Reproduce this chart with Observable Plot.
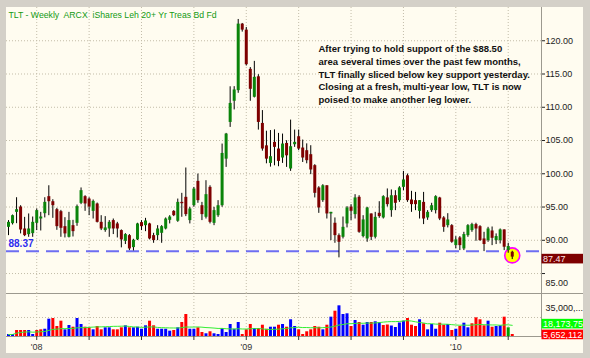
<!DOCTYPE html>
<html><head><meta charset="utf-8">
<script src="https://cdn.jsdelivr.net/npm/d3@7"></script>
<script src="https://cdn.jsdelivr.net/npm/@observablehq/plot@0.6"></script>
<style>
html,body{margin:0;padding:0;background:#ffffff;}
#wrap{position:relative;width:590px;height:358px;background:#d4d0c8;overflow:hidden;font-family:"Liberation Sans",Arial,sans-serif;}
#panel{position:absolute;left:6px;top:7px;width:577px;height:346px;background:#fffcf0;}
.ln{position:absolute;background:#9c998f;}
#price,#volume{position:absolute;left:0;}
#price{top:0px;}
#volume{top:293px;}
</style></head><body>
<div id="wrap">
  <div id="panel"></div>
  <div class="ln" style="left:541px;top:7px;width:1px;height:330px"></div>
  <div class="ln" style="left:6px;top:293px;width:577px;height:1px"></div>
  <div class="ln" style="left:6px;top:336px;width:577px;height:1px"></div>
  <div id="price"></div>
  <div id="volume"></div>
</div>
<script>
// ---- data (weekly bars, TLT, Nov 2007 - Apr 2010) ----
const open = [
91.95,92.5,94.2,95.0,91.7,90.85,91.0,92.55,93.2,94.0,
96.56,95.8,94.6,94.3,92.05,90.45,92.2,92.55,95.55,96.56,
96.2,94.35,95.46,92.7,91.46,91.7,92.96,92.46,91.46,89.85,
90.7,88.9,90.06,92.66,92.2,92.46,90.7,90.7,91.05,91.7,
93.0,94.35,92.86,95.7,96.46,92.96,95.2,98.86,95.2,93.46,
97.96,92.55,93.7,95.2,102.2,107.72,110.9,112.5,122.5,121.6,
115.7,111.5,114.58,107.57,104.2,101.56,104.72,103.72,102.37,104.56,
100.72,104.37,105.57,103.87,103.47,102.87,101.22,97.87,95.96,98.2,
93.96,92.56,90.7,90.45,92.46,95.0,93.86,96.46,90.56,90.2,
93.96,90.45,94.06,93.36,96.37,94.46,96.7,95.96,97.96,99.7,
96.06,95.96,94.35,95.7,93.36,94.46,94.46,96.36,93.36,92.2,
92.2,89.2,90.36,88.7,90.7,91.46,92.36,92.05,90.2,89.95,
91.4,89.95,89.95,91.56,88.45,88.2];
const high = [
92.96,93.8,96.4,95.2,93.45,93.96,93.5,94.7,94.2,96.4,
98.2,96.1,94.8,94.5,93.4,94.2,93.0,95.3,97.87,96.7,
96.4,96.06,95.6,93.7,93.56,92.96,93.2,92.7,91.56,91.0,
90.86,90.15,92.56,92.96,93.3,92.56,91.05,92.2,92.2,93.36,
93.7,94.46,96.2,97.06,100.87,94.96,97.95,99.96,95.7,98.96,
98.2,94.96,95.96,104.47,106.07,113.08,113.1,123.2,122.6,122.0,
115.97,116.9,114.9,109.5,106.4,106.5,106.6,106.07,105.97,104.97,
108.07,106.57,106.57,105.07,104.5,104.22,101.37,98.06,98.36,98.2,
94.2,93.36,90.96,93.5,95.06,95.36,96.86,96.7,93.7,94.96,
93.96,94.2,95.8,96.7,97.72,97.57,97.46,98.06,100.36,99.96,
97.36,97.2,95.96,97.2,94.46,95.56,96.7,96.46,93.56,94.0,
92.36,90.56,90.56,91.2,92.36,92.56,92.56,92.2,91.2,91.95,
92.0,90.96,91.7,91.56,89.55,88.35];
const low = [
90.7,92.3,92.5,90.96,90.55,90.45,90.45,91.46,91.4,93.36,
93.7,93.3,91.5,90.45,90.35,90.35,90.5,92.1,95.36,94.35,
93.7,93.2,92.6,91.46,91.2,90.45,90.86,90.35,88.86,89.36,
88.45,88.4,89.96,91.46,91.3,90.06,89.55,89.95,89.55,91.56,
92.46,93.56,92.7,93.46,93.56,92.46,94.96,95.56,92.96,93.2,
92.46,92.2,93.45,94.96,100.96,106.97,109.6,112.1,121.3,116.2,
110.9,111.4,106.57,103.4,101.5,101.0,101.2,101.06,101.56,100.96,
100.36,103.97,103.47,101.7,101.5,99.87,96.37,94.05,95.7,93.2,
89.95,89.55,87.36,90.2,91.86,92.96,93.2,91.05,90.36,89.7,
89.95,90.2,93.3,93.2,95.0,93.46,94.46,95.7,97.46,95.7,
94.2,94.46,93.2,92.36,93.0,94.2,93.96,92.96,91.2,91.86,
89.55,88.7,88.45,88.45,90.45,91.2,89.85,89.85,88.3,89.7,
89.2,89.36,89.45,88.45,88.05,87.1];
const close = [
92.7,93.7,94.6,91.55,90.7,91.7,92.7,94.46,93.5,95.7,
95.8,95.2,92.05,91.8,90.96,92.96,91.3,95.06,97.46,95.46,
95.0,95.85,92.7,91.7,91.86,92.7,91.7,91.7,90.06,90.86,
88.7,90.0,92.46,92.05,92.9,90.2,89.95,91.7,92.05,93.2,
93.5,93.7,95.7,95.5,93.86,94.7,97.7,95.96,93.86,96.86,
92.7,94.46,95.2,103.06,105.97,110.58,112.6,122.5,121.6,116.4,
112.7,114.5,107.72,103.72,102.2,102.57,103.97,101.86,104.47,102.7,
104.07,104.72,103.72,102.37,101.97,100.57,97.06,94.86,98.2,93.96,
94.2,90.7,89.7,91.95,94.86,94.36,96.37,91.2,93.06,94.86,
90.45,93.45,93.56,96.56,95.36,96.7,95.56,97.87,99.07,95.96,
95.36,95.36,95.96,93.2,94.2,95.2,96.56,93.2,91.95,93.06,
89.7,90.06,89.2,90.86,92.2,92.36,91.7,89.95,89.36,91.7,
90.3,90.56,91.56,88.96,89.06,87.47];
// weekly volume, millions of shares
const volume = [
3.7,3.7,11.1,11.1,11.1,11.1,3.7,11.1,12.3,13.4,
31.9,33.2,18.4,28.2,12.3,20.3,17.1,33.2,22.1,17.1,
16.0,12.3,18.4,12.3,16.0,16.0,12.3,12.3,16.0,19.7,
16.0,16.0,17.1,13.4,19.7,28.2,19.7,13.4,13.4,13.4,
9.8,11.1,16.0,25.8,40.5,13.4,13.4,16.0,7.4,5.0,
8.7,5.0,3.7,14.7,7.4,22.1,13.4,25.8,3.7,12.3,
22.1,14.7,14.7,20.8,13.4,17.1,17.1,20.8,22.1,17.1,
30.8,18.4,12.3,3.7,8.7,12.3,18.4,17.1,12.3,20.8,
35.6,46.6,56.5,40.5,41.8,18.4,29.5,25.8,20.8,25.8,
25.8,27.1,25.8,20.3,21.2,19.3,16.6,24.9,28.2,33.2,
20.8,18.4,30.8,23.4,12.3,22.1,13.4,24.5,20.8,22.1,
11.1,13.4,18.4,24.5,16.0,23.4,34.4,30.8,19.7,28.2,
17.1,18.4,19.7,35.6,16.0,3.7];
// volume bar colour code: u = up week, d = down week, g = highlighted week
const volumeDirection = [...(
"uuddduuddu"+"uddduuduud"+"dudduudddu"+"duuuudduuu"+"ududduuddu"+"duuuuuuudd"+
"duddduudud"+"uuddddddud"+"uduuududuu"+"duudduuuud"+"dduduuuddu"+"duduuddddu"+"duudgd")];

const priceTicks = [85, 90, 95, 100, 105, 110, 115, 120];
const quarterWeeks = [7, 20, 33, 46, 59, 72, 85, 98, 111, 124];
const yearWeeks = [7, 59, 111];
const yearLabels = ["'08", "'09", "'10"];
const supportLevel = 88.37;
const volumeGridValue = 35;
const volumeGridLabel = "35,000,...";
const volumeMALast = 18.17;
const volumeMALabel = "18,173,75";
const lastVolumeLabel = "5,652,112";
const lastVolumeValue = 5.652;
const titleText = "TLT - Weekly\u00A0 ARCX\u00A0 iShares Leh 20+ Yr Treas Bd Fd";
const noteLines = [
  "After trying to hold support of the $88.50",
  "area several times over the past few months,",
  "TLT finally sliced below key support yesterday.",
  "Closing at a fresh, multi-year low, TLT is now",
  "poised to make another leg lower."
];

// ---- build ----
const candles = open.map((o, i) => ({i, open: o, high: high[i], low: low[i], close: close[i]}));
const vols = volume.map((v, i) => ({i, v, dir: volumeDirection[i]}));
const last = candles[candles.length - 1];
const yearLabelOf = new Map(yearWeeks.map((w, k) => [w, yearLabels[k]]));

const GREEN = "#0a840a", RED = "#7e0000", GRID = "#c3bda9";
const volColor = {u: "#0000ff", d: "#ff0000", g: "#00a000"};
const xDomain = [-0.5, 132.26];
const font = "'Liberation Sans', Arial, sans-serif";
const NS = "http://www.w3.org/2000/svg";

function valueBox(value, text, fill, textFill, offset) {
  return (index, scales, values, dims) => {
    const y = scales.y(value) + offset;
    const x0 = dims.width - dims.marginRight;
    const g = document.createElementNS(NS, "g");
    const r = document.createElementNS(NS, "rect");
    r.setAttribute("x", x0 + 0.5); r.setAttribute("y", y - 4.8);
    r.setAttribute("width", 41.5); r.setAttribute("height", 9.6);
    r.setAttribute("fill", fill);
    const t = document.createElementNS(NS, "text");
    t.setAttribute("x", x0 + 2); t.setAttribute("y", y);
    t.setAttribute("dy", "0.36em"); t.setAttribute("fill", textFill);
    t.setAttribute("text-anchor", "start");
    t.setAttribute("font-size", "9px");
    t.textContent = text;
    g.append(r, t);
    return g;
  };
}

const price = Plot.plot({
  width: 590, height: 293,
  marginLeft: 6, marginRight: 49, marginTop: 7, marginBottom: 0,
  style: {background: "transparent", fontFamily: font, fontSize: "9px", color: "#222", overflow: "visible"},
  x: {domain: xDomain, axis: null},
  y: {domain: [82, 125], axis: "right", ticks: priceTicks, tickSize: 3, tickPadding: 1,
      tickFormat: d => d === 85 ? "" : d.toFixed(2), label: null},
  color: {type: "identity"},
  marks: [
    Plot.ruleY(priceTicks, {stroke: GRID, strokeDasharray: "1,2"}),
    Plot.ruleX(quarterWeeks, {stroke: GRID, strokeDasharray: "1,2"}),
    Plot.text([85], {y: d => d, frameAnchor: "right", dx: 4, dy: 10, textAnchor: "start", text: d => d.toFixed(2), fill: "#222"}),
    Plot.text([titleText], {frameAnchor: "top-left", dx: 2, dy: 4, lineAnchor: "top", textAnchor: "start",
      fill: "#139a13", fontSize: 8.7, text: d => d}),
    Plot.text([noteLines.join("\n")], {frameAnchor: "top-left", dx: 312, dy: 36, lineAnchor: "top", textAnchor: "start",
      lineHeight: 1.33, fontWeight: "bold", fontSize: 9.5, fill: "#111", text: d => d}),
    Plot.ruleY([supportLevel], {stroke: "#6d6df2", strokeWidth: 2, strokeDasharray: "13,7"}),
    Plot.text([supportLevel], {y: d => d, frameAnchor: "left", dx: 2, dy: -7, textAnchor: "start",
      text: d => d.toFixed(2), fill: "#2d2df0", fontWeight: "bold", fontSize: 10}),
    Plot.dot([last], {x: "i", y: d => (d.high + d.low) / 2, r: 7.5, fill: "#ffff00", stroke: "#ff00ff", strokeWidth: 1.6}),
    Plot.ruleX(candles, {x: "i", y1: "low", y2: "high", stroke: "#000"}),
    Plot.ruleX(candles, {x: "i", y1: "open", y2: "close", strokeWidth: 3,
      stroke: d => d.close >= d.open ? GREEN : RED}),
    valueBox(last.close, last.close.toFixed(2), "#7e0000", "#ffe6e6", 2)
  ]
});
document.getElementById("price").append(price);

const vol = Plot.plot({
  width: 590, height: 65,
  marginLeft: 6, marginRight: 49, marginTop: 0, marginBottom: 22,
  style: {background: "transparent", fontFamily: font, fontSize: "9px", color: "#333", overflow: "visible"},
  x: {domain: xDomain, axis: "bottom", ticks: quarterWeeks, tickSize: 4, tickPadding: 3,
      tickFormat: d => yearLabelOf.get(d) ?? "", label: null},
  y: {domain: [0, 79.2], axis: null},
  color: {type: "identity"},
  marks: [
    Plot.ruleX(quarterWeeks, {stroke: GRID, strokeDasharray: "1,2"}),
    Plot.ruleY([volumeGridValue], {stroke: GRID, strokeDasharray: "1,2"}),
    Plot.ruleX(vols, {x: "i", y1: 0, y2: "v", strokeWidth: 3, stroke: d => volColor[d.dir]}),
    Plot.lineY(vols, Plot.windowY({k: 20, anchor: "end"}, {x: "i", y: "v", stroke: "#33ee33", strokeWidth: 1})),
    Plot.text([volumeGridValue], {y: d => d, frameAnchor: "right", dx: 4, dy: -9, textAnchor: "start",
      text: () => volumeGridLabel, fill: "#222"}),
    valueBox(volumeMALast, volumeMALabel, "#00ff00", "#ffffff", -2.5),
    valueBox(lastVolumeValue, lastVolumeLabel, "#ff0000", "#ffffff", 1.5)
  ]
});
document.getElementById("volume").append(vol);
</script>
</body></html>
